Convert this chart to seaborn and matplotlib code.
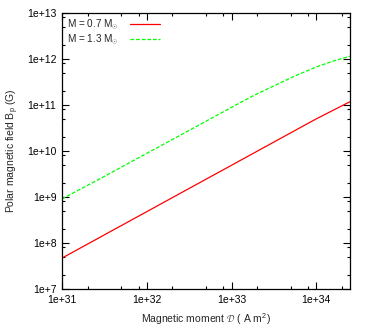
import numpy as np
import pandas as pd
import matplotlib
matplotlib.use("Agg")
import matplotlib.pyplot as plt
import matplotlib.ticker as mticker
import seaborn as sns

# ─── Data ────────────────────────────────────────────────────
moment_red = [1e31, 1e32, 1e33, 1e34, 2.5e34]
field_red = [4.7e7, 4.8e8, 4.9e9, 5.0e10, 1.18e11]

moment_green = [1e31, 3.16e31, 1e32, 3.16e32, 1e33, 1.78e33, 3.16e33,
                5.62e33, 1e34, 1.58e34, 2.5e34]
field_green = [9.1e8, 2.8e9, 8.9e9, 2.8e10, 8.9e10, 1.57e11, 2.6e11,
               4.3e11, 6.7e11, 9.0e11, 1.15e12]

labels = [r'M = 0.7 M$_{\odot}$', r'M = 1.3 M$_{\odot}$']
xticks = [1e31, 1e32, 1e33, 1e34]
yticks = [1e7, 1e8, 1e9, 1e10, 1e11, 1e12, 1e13]

df = pd.concat([
    pd.DataFrame({'D': moment_red, 'B': field_red, 'mass': labels[0]}),
    pd.DataFrame({'D': moment_green, 'B': field_green, 'mass': labels[1]}),
])

# ─── Plot ────────────────────────────────────────────────────
sns.set_style("ticks")
plt.rcParams['font.family'] = ['Liberation Sans', 'DejaVu Sans']
plt.rcParams['mathtext.fontset'] = 'custom'
plt.rcParams['mathtext.rm'] = 'Liberation Sans'

fig = plt.figure(figsize=(3.69, 3.32), dpi=100)
ax = fig.add_axes([62 / 369, 43 / 332, 288 / 369, 276 / 332])

sns.lineplot(data=df, x='D', y='B', hue='mass', style='mass',
             palette=['#ff0000', '#00ff00'], dashes=[(None, None), (3, 1.5)],
             linewidth=0.9, ax=ax)

ax.set_xscale('log')
ax.set_yscale('log')
ax.set_xlim(1e31, 2.5e34)
ax.set_ylim(1e7, 1e13)

fmt = mticker.FuncFormatter(lambda v, p: '1e+%d' % round(np.log10(v)))
ax.xaxis.set_major_locator(mticker.FixedLocator(xticks))
ax.yaxis.set_major_locator(mticker.FixedLocator(yticks))
ax.xaxis.set_major_formatter(fmt)
ax.yaxis.set_major_formatter(fmt)
ax.xaxis.set_minor_locator(mticker.LogLocator(base=10, subs=[2, 5, 8]))
ax.yaxis.set_minor_locator(mticker.LogLocator(base=10, subs=[2, 5, 8]))
ax.xaxis.set_minor_formatter(mticker.NullFormatter())
ax.yaxis.set_minor_formatter(mticker.NullFormatter())

ax.tick_params(which='both', direction='in', top=True, right=True,
               labelsize=7.5, width=0.8, colors='black')
ax.tick_params(which='major', length=5, pad=4)
ax.tick_params(which='minor', length=2.5)
for s in ax.spines.values():
    s.set_linewidth(0.9)
    s.set_color('black')

ax.set_xlabel(r'Magnetic moment $\mathcal{D}$ ( A m$^{2}$)', fontsize=7.5, labelpad=5)
ax.set_ylabel(r'Polar magnetic field B$_{\mathrm{p}}$ (G)', fontsize=7.5, labelpad=4)

handles, _ = ax.get_legend_handles_labels()
ax.legend(handles=handles, labels=labels, loc='upper left', frameon=False,
          markerfirst=False, fontsize=7.2, handlelength=3.0, handletextpad=1.1,
          labelspacing=0.0, borderaxespad=0.2, borderpad=0.3)

fig.savefig('out.png', dpi=100)
